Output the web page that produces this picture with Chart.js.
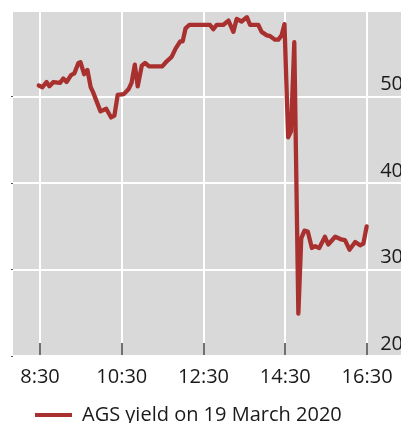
<!DOCTYPE html>
<html>
<head>
<meta charset="utf-8">
<script src="https://cdn.jsdelivr.net/npm/chart.js@4/dist/chart.umd.min.js"></script>
<style>
  html, body { margin: 0; padding: 0; background: #ffffff; overflow: hidden; }
  #wrap { width: 401px; height: 423px; }
</style>
</head>
<body>
<div id="wrap"><canvas id="chart" width="401" height="423"></canvas></div>
<script>
// Intraday AGS yield, time in decimal hours
const times = [8.47, 8.56, 8.66, 8.73, 8.83, 8.99, 9.07, 9.15, 9.26, 9.34,
  9.44, 9.49, 9.58, 9.66, 9.74, 9.80, 9.98, 10.12, 10.24, 10.32,
  10.40, 10.55, 10.67, 10.74, 10.82, 10.89, 10.99, 11.07, 11.17, 11.49,
  11.60, 11.72, 11.82, 11.93, 11.99, 12.06, 12.15, 12.41, 12.66, 12.74,
  12.82, 12.98, 13.11, 13.23, 13.31, 13.43, 13.56, 13.64, 13.84, 13.92,
  14.05, 14.13, 14.25, 14.33, 14.41, 14.48, 14.57, 14.64, 14.72, 14.82,
  14.89, 14.97, 15.05, 15.15, 15.23, 15.33, 15.47, 15.55, 15.72, 15.86,
  15.96, 16.07, 16.21, 16.33, 16.41, 16.49];

const yields = [51.3, 51.1, 51.7, 51.2, 51.7, 51.6, 52.1, 51.7, 52.5, 52.7,
  53.9, 54.0, 52.6, 53.1, 51.1, 50.5, 48.3, 48.6, 47.6, 47.8,
  50.2, 50.3, 50.9, 51.6, 53.7, 51.2, 53.6, 53.9, 53.5, 53.5,
  54.1, 54.6, 55.6, 56.4, 56.4, 57.9, 58.3, 58.3, 58.3, 57.8,
  58.3, 58.3, 58.8, 57.5, 59.0, 58.7, 59.2, 58.3, 58.3, 57.5,
  57.1, 57.0, 56.6, 56.6, 57.1, 58.4, 45.3, 46.0, 56.3, 24.9,
  33.6, 34.5, 34.4, 32.5, 32.7, 32.5, 33.8, 32.9, 33.8, 33.5,
  33.4, 32.3, 33.2, 32.8, 33.0, 35.0];

const xTickValues = [8.5, 10.5, 12.5, 14.5, 16.5];
const xTickLabels = ['8:30', '10:30', '12:30', '14:30', '16:30'];
const yTickValues = [20, 30, 40, 50];
const seriesLabel = 'AGS yield on 19 March 2020';

const FONT = 'Open Sans';
const TEXT = '#1a1a1a';
const LINE = '#a8302e';

const X_MIN = 7.84, X_MAX = 17.33;
const Y_MIN = 20, Y_MAX = 59.8;

// grey panel behind the plot
const plotBackground = {
  id: 'plotBackground',
  beforeDraw(chart) {
    const { ctx, chartArea: a } = chart;
    ctx.save();
    ctx.fillStyle = '#d9d9d9';
    ctx.fillRect(a.left, a.top, a.right - a.left, a.bottom - a.top);
    ctx.restore();
  }
};

const setXTicks = s => { s.ticks = xTickValues.map(v => ({ value: v })); };
const setYTicks = s => { s.ticks = yTickValues.map(v => ({ value: v })); };

new Chart(document.getElementById('chart'), {
  type: 'line',
  data: {
    datasets: [{
      label: seriesLabel,
      data: times.map((t, i) => ({ x: t, y: yields[i] })),
      xAxisID: 'x',
      yAxisID: 'y',
      borderColor: LINE,
      backgroundColor: LINE,
      borderWidth: 4.3,
      borderJoinStyle: 'round',
      borderCapStyle: 'round',
      pointRadius: 0,
      tension: 0
    }]
  },
  options: {
    responsive: false,
    animation: false,
    devicePixelRatio: 1,
    layout: { padding: { left: 11, right: -4, top: 12, bottom: -42 }, autoPadding: false },
    scales: {
      // time axis: white grid, short dark ticks pointing up into the panel
      x: {
        type: 'linear', position: 'bottom', min: X_MIN, max: X_MAX,
        afterBuildTicks: setXTicks,
        ticks: {
          callback: v => xTickLabels[xTickValues.indexOf(v)],
          font: { family: FONT, size: 20, lineHeight: 3.0 },
          color: TEXT, padding: 4, maxRotation: 0, autoSkip: false
        },
        grid: { color: '#ffffff', lineWidth: 2, drawTicks: true, tickLength: -13, tickColor: '#222222', tickWidth: 1.3 },
        border: { display: false }
      },
      // pulls the legend up under the time labels
      xs: {
        type: 'linear', position: 'bottom', min: X_MIN, max: X_MAX,
        afterBuildTicks: setXTicks,
        ticks: { display: false },
        grid: { drawOnChartArea: false, drawTicks: true, tickLength: -30, tickColor: 'rgba(0,0,0,0)' },
        border: { display: false }
      },
      // yield axis: labels sit just above their grid lines, inside the panel
      y: {
        type: 'linear', position: 'right', min: Y_MIN, max: Y_MAX,
        afterBuildTicks: setYTicks,
        ticks: {
          mirror: true, padding: 2, labelOffset: -12,
          font: { family: FONT, size: 20, lineHeight: 1.0 },
          color: TEXT
        },
        grid: { color: '#ffffff', lineWidth: 2, drawTicks: false },
        border: { display: false }
      },
      yl: {
        type: 'linear', position: 'left', min: Y_MIN, max: Y_MAX,
        afterBuildTicks: setYTicks,
        ticks: { display: false },
        grid: { drawOnChartArea: false, drawTicks: true, tickLength: 2, tickColor: '#555555', tickWidth: 1 },
        border: { display: false }
      }
    },
    plugins: {
      tooltip: { enabled: false },
      legend: {
        position: 'bottom',
        align: 'start',
        labels: {
          boxWidth: 37, boxHeight: 4, padding: 24,
          font: { family: FONT, size: 20 },
          color: TEXT,
          generateLabels: chart => Chart.defaults.plugins.legend.labels.generateLabels(chart)
            .map(item => Object.assign(item, { lineWidth: 0 }))
        }
      }
    }
  },
  plugins: [plotBackground]
});
</script>
</body>
</html>
